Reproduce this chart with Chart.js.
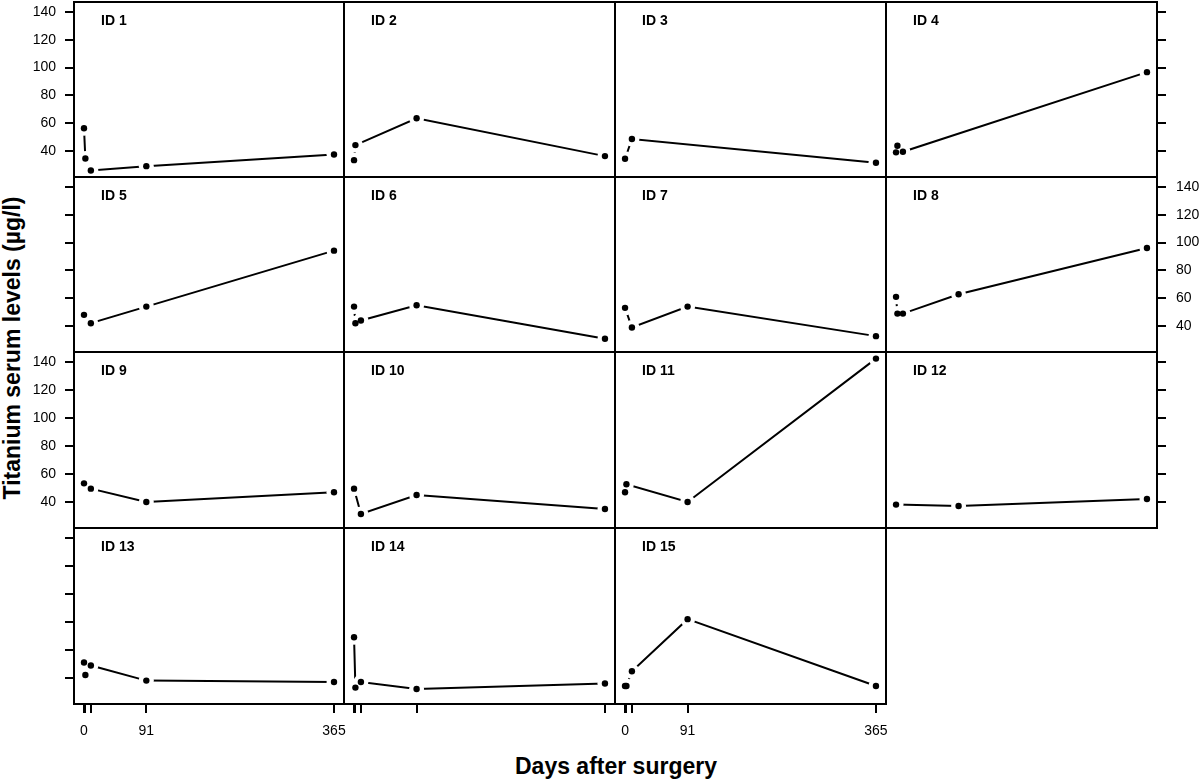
<!DOCTYPE html>
<html lang="en">
<head>
<meta charset="UTF-8">
<title>Titanium serum levels</title>
<script src="https://cdn.jsdelivr.net/npm/chart.js"></script>
<style>
  body { margin: 0; background: #fff; }
  #wrap { position: relative; width: 1200px; height: 779px; overflow: hidden; font-family: "Liberation Sans", Arial, sans-serif; }
  #wrap canvas { position: absolute; }
  .title { position: absolute; font-weight: bold; font-size: 23px; color: #000; white-space: nowrap; }
  #ytitle { left: 12px; top: 348px; transform: translate(-50%, -50%) rotate(-90deg); }
  #xtitle { left: 616px; top: 766px; transform: translate(-50%, -50%); }
</style>
</head>
<body>
<div id="wrap">
  <div class="title" id="ytitle">Titanium serum levels (µg/l)</div>
  <div class="title" id="xtitle">Days after surgery</div>
</div>
<script>
// days after surgery at which blood was drawn
const days = [0, 2, 10, 91, 365];

// titanium serum levels (µg/l) per patient, null = no sample
const id1  = [56.4, 34.7, 26.1, 29.2, 37.6];
const id2  = [33.5, 44.3, null, 63.6, 36.4];
const id3  = [34.5, null, 48.7, null, 31.6];
const id4  = [39.1, 43.8, 39.5, null, 96.7];
const id5  = [48.1, null, 42.1, 54.0, 94.2];
const id6  = [54.0, 42.1, 44.0, 55.0, 30.9];
const id7  = [53.1, null, 39.0, 54.0, 32.8];
const id8  = [61.0, 49.0, 49.0, 62.9, 96.1];
const id9  = [53.3, null, 49.5, 40.0, 46.9];
const id10 = [49.5, null, 31.4, 45.0, 35.0];
const id11 = [46.9, 52.6, null, 40.0, 142.4];
const id12 = [38.1, null, null, 37.1, 42.1];
const id13 = [51.0, 42.1, 48.9, 38.1, 37.1];
const id14 = [69.1, 33.1, 37.1, 32.1, 36.0];
const id15 = [34.3, 34.3, 44.8, 82.0, 34.3];

const series = [id1, id2, id3, id4, id5, id6, id7, id8, id9, id10, id11, id12, id13, id14, id15];
const names = ['ID 1', 'ID 2', 'ID 3', 'ID 4', 'ID 5', 'ID 6', 'ID 7', 'ID 8',
               'ID 9', 'ID 10', 'ID 11', 'ID 12', 'ID 13', 'ID 14', 'ID 15'];

const yTicks = [40, 60, 80, 100, 120, 140];
const xTicks = [0, 2, 10, 91, 365];
const xLabels = ['0', '', '', '91', '365'];

// panel grid (page pixels)
const colEdges = [74, 344, 615, 886, 1157];
const rowEdges = [2, 177, 352, 528, 704];
const padL = 70, padR = 60, padT = 4, padB = 60;
const xMin = -14.6, xMax = 379.6, yMin = 21.4, yMax = 147.1;

Chart.defaults.font.family = '"Liberation Sans", Arial, sans-serif';
Chart.defaults.font.size = 14;
Chart.defaults.color = '#000';

const panelFrame = {
  id: 'panelFrame',
  afterDraw(chart, args, opts) {
    const { ctx, chartArea: a } = chart;
    ctx.save();
    ctx.strokeStyle = '#000';
    ctx.lineWidth = 2;
    ctx.strokeRect(a.left, a.top, a.right - a.left, a.bottom - a.top);
    ctx.fillStyle = '#000';
    ctx.font = 'bold 14px "Liberation Sans", Arial, sans-serif';
    ctx.textBaseline = 'alphabetic';
    ctx.fillText(opts.label, a.left + 27, a.top + 23);
    ctx.restore();
  }
};

function tickGrid(show) {
  return { display: show, drawOnChartArea: false, drawTicks: true, tickLength: 9, color: '#000', lineWidth: 2 };
}

const wrap = document.getElementById('wrap');

series.forEach((vals, i) => {
  const row = Math.floor(i / 4), col = i % 4;
  const w = colEdges[col + 1] - colEdges[col];
  const h = rowEdges[row + 1] - rowEdges[row];

  const canvas = document.createElement('canvas');
  canvas.width = w + padL + padR;
  canvas.height = h + padT + padB;
  canvas.style.left = (colEdges[col] - padL) + 'px';
  canvas.style.top = (rowEdges[row] - padT) + 'px';
  wrap.appendChild(canvas);

  const pts = days.map((d, k) => ({ x: d, y: vals[k] })).filter(p => p.y !== null);

  const leftTicks = col === 0, leftLabels = col === 0 && row % 2 === 0;
  const rightTicks = col === 3, rightLabels = col === 3 && row % 2 === 1;
  const bottomTicks = row === 3, bottomLabels = row === 3 && col % 2 === 0;

  new Chart(canvas, {
    type: 'line',
    data: {
      datasets: [
        {
          // line; white discs leave the small gaps round each point
          data: pts,
          borderColor: '#000',
          borderWidth: 2,
          pointRadius: 7.5,
          pointBackgroundColor: '#fff',
          pointBorderColor: '#fff',
          pointBorderWidth: 0,
          order: 2
        },
        {
          data: pts,
          showLine: false,
          pointRadius: 3.2,
          pointBackgroundColor: '#000',
          pointBorderColor: '#000',
          pointBorderWidth: 0,
          order: 1
        }
      ]
    },
    options: {
      responsive: false,
      animation: false,
      events: [],
      layout: { autoPadding: false, padding: { top: padT, left: 0, right: 0, bottom: 0 } },
      plugins: {
        legend: { display: false },
        tooltip: { enabled: false },
        panelFrame: { label: names[i] }
      },
      scales: {
        x: {
          type: 'linear',
          position: 'bottom',
          min: xMin, max: xMax,
          border: { display: false },
          grid: tickGrid(bottomTicks),
          afterBuildTicks: s => { s.ticks = xTicks.map(v => ({ value: v })); },
          afterFit: s => { s.height = padB; s.paddingLeft = 0; s.paddingRight = 0; },
          ticks: {
            display: bottomLabels,
            padding: 10,
            autoSkip: false,
            maxRotation: 0,
            minRotation: 0,
            callback: (v, k) => xLabels[k]
          }
        },
        y: {
          type: 'linear',
          position: 'left',
          min: yMin, max: yMax,
          border: { display: false },
          grid: tickGrid(leftTicks),
          afterBuildTicks: s => { s.ticks = yTicks.map(v => ({ value: v })); },
          afterFit: s => { s.width = padL; s.paddingTop = 0; s.paddingBottom = 0; },
          ticks: { display: leftLabels, padding: 9, callback: v => String(v) }
        },
        y2: {
          type: 'linear',
          position: 'right',
          min: yMin, max: yMax,
          border: { display: false },
          grid: tickGrid(rightTicks),
          afterBuildTicks: s => { s.ticks = yTicks.map(v => ({ value: v })); },
          afterFit: s => { s.width = padR; s.paddingTop = 0; s.paddingBottom = 0; },
          ticks: { display: rightLabels, padding: 10, callback: v => String(v) }
        }
      }
    },
    plugins: [panelFrame]
  });
});
</script>
</body>
</html>
